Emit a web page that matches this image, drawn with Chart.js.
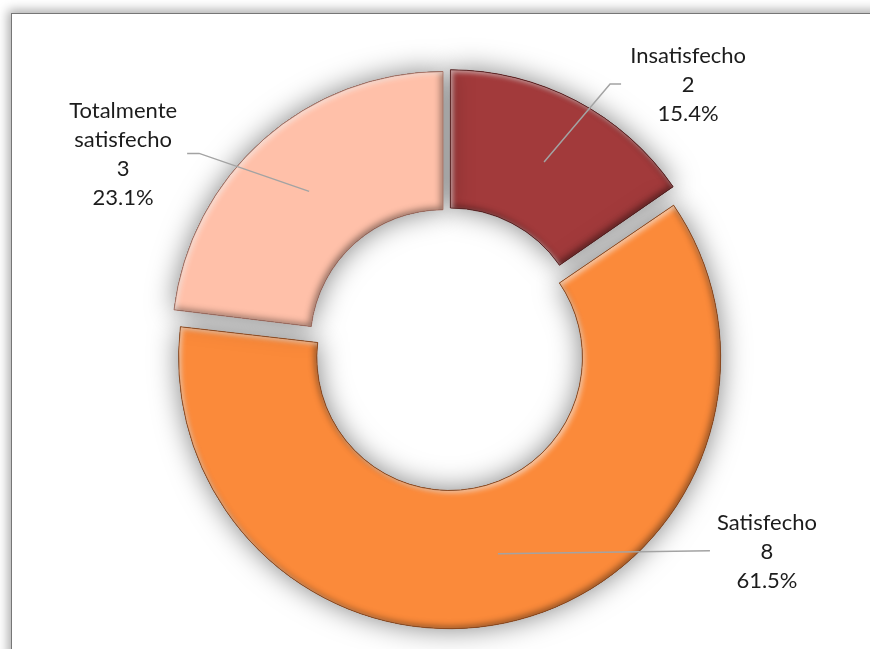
<!DOCTYPE html>
<html><head><meta charset="utf-8">
<script src="https://cdn.jsdelivr.net/npm/chart.js@4.4.1/dist/chart.umd.min.js"></script>
<style>
html,body{margin:0;padding:0;background:#fff;width:870px;height:649px;overflow:hidden}
#frame{position:absolute;left:11px;top:13px;width:900px;height:700px;border:1px solid #767676;box-shadow:0 0 10px 3px rgba(0,0,0,0.33);background:#fff}
#wrap{position:absolute;left:0;top:0;width:870px;height:649px}
</style></head><body>
<div id="frame"></div>
<div id="wrap"><canvas id="c" width="870" height="649"></canvas></div>
<script>
// ---- data ----
const categories = ['Insatisfecho', 'Satisfecho', 'Totalmente satisfecho'];
const counts = [2, 8, 3];
const labelLines = [['Insatisfecho'], ['Satisfecho'], ['Totalmente', 'satisfecho']];
const sliceColors = ['#a23a3b', '#fb8a3a', '#ffc0a9'];
const edgeColors = ['rgba(90,25,25,0.8)', 'rgba(150,70,20,0.8)', 'rgba(170,110,95,0.8)'];
const sliceOffsets = [28, 44, 24];

// leader / label placement relative to each slice's mid point
const labelPlacement = [
  { elbow: [66, -78], end: [77, -78], text: [144, -106] },
  { elbow: [212, -3], end: [212, -3], text: [269, -31] },
  { elbow: [-110, -38], end: [-122, -38], text: [-186, -80] }
];

const total = counts.reduce((a, b) => a + b, 0);

function arcGeom(arc) {
  const p = arc.getProps(['x', 'y', 'startAngle', 'endAngle', 'innerRadius', 'outerRadius', 'circumference']);
  const off = (arc.options.offset || 0) / 4;
  const half = (p.startAngle + p.endAngle) / 2;
  const fix = 1 - Math.sin(Math.min(Math.PI, p.circumference || 0));
  const rOff = off * fix;
  const ro = p.outerRadius + rOff, ri = p.innerRadius + rOff;
  const alpha = p.endAngle - p.startAngle;
  const beta = Math.max(0.001, alpha * ro - rOff / Math.PI) / ro;
  const ao = (alpha - beta) / 2;
  return { cx: p.x + Math.cos(half) * off, cy: p.y + Math.sin(half) * off, s: p.startAngle + ao, e: p.endAngle - ao, ri, ro, half };
}
function ringPath(ctx, g) {
  ctx.moveTo(g.cx + Math.cos(g.s) * g.ro, g.cy + Math.sin(g.s) * g.ro);
  ctx.arc(g.cx, g.cy, g.ro, g.s, g.e);
  ctx.arc(g.cx, g.cy, g.ri, g.e, g.s, true);
  ctx.closePath();
}
function innerShadow(ctx, g, color, blur, ox, oy) {
  ctx.save();
  ctx.beginPath();
  ringPath(ctx, g);
  ctx.clip();
  ctx.beginPath();
  ctx.rect(-2000, -2000, 5000, 5000);
  ringPath(ctx, g);
  ctx.shadowColor = color;
  ctx.shadowBlur = blur;
  ctx.shadowOffsetX = ox;
  ctx.shadowOffsetY = oy;
  ctx.fillStyle = '#000';
  ctx.fill('evenodd');
  ctx.restore();
}

// keep radii equal for every exploded slice
const radiusFixPlugin = {
  id: 'radiusFix',
  afterDatasetUpdate(chart, args) {
    args.meta.data.forEach(arc => {
      const off = (arc.options.offset || 0) / 4;
      const fix = 1 - Math.sin(Math.min(Math.PI, arc.circumference || 0));
      arc.outerRadius -= off * fix;
      arc.innerRadius -= off * fix;
    });
  }
};

const shadowPlugin = {
  id: 'shadow',
  beforeDatasetsDraw(chart) {
    const ctx = chart.ctx;
    ctx.save();
    ctx.shadowColor = 'rgba(0,0,0,0.5)';
    ctx.shadowBlur = 28;
    ctx.shadowOffsetX = 0;
    ctx.shadowOffsetY = 0;
  },
  afterDatasetsDraw(chart) {
    const ctx = chart.ctx;
    ctx.restore();
    const meta = chart.getDatasetMeta(0);
    meta.data.forEach((arc, i) => {
      const g = arcGeom(arc);
      innerShadow(ctx, g, 'rgba(0,0,0,0.45)', 7, -2, -2);
      innerShadow(ctx, g, 'rgba(255,255,255,0.55)', 5, 2.5, 2.5);
      ctx.save();
      ctx.beginPath();
      ringPath(ctx, g);
      ctx.lineWidth = 1;
      ctx.strokeStyle = edgeColors[i];
      ctx.stroke();
      ctx.restore();
    });
  }
};

const labelPlugin = {
  id: 'sliceLabels',
  afterDraw(chart) {
    const ctx = chart.ctx;
    const meta = chart.getDatasetMeta(0);
    meta.data.forEach((arc, i) => {
      const g = arcGeom(arc);
      const rm = (g.ri + g.ro) / 2;
      const ax = g.cx + Math.cos(g.half) * rm;
      const ay = g.cy + Math.sin(g.half) * rm;
      const pl = labelPlacement[i];
      ctx.save();
      ctx.strokeStyle = '#a3a3a3';
      ctx.lineWidth = 1.5;
      ctx.beginPath();
      ctx.moveTo(ax, ay);
      ctx.lineTo(ax + pl.elbow[0], ay + pl.elbow[1]);
      ctx.lineTo(ax + pl.end[0], ay + pl.end[1]);
      ctx.stroke();
      const lines = labelLines[i].concat([String(counts[i]), (counts[i] / total * 100).toFixed(1) + '%']);
      ctx.fillStyle = '#1c1c1c';
      ctx.font = '22px Lato, "Open Sans", sans-serif';
      ctx.textAlign = 'center';
      ctx.textBaseline = 'middle';
      lines.forEach((t, k) => ctx.fillText(t, ax + pl.text[0], ay + pl.text[1] + k * 29));
      ctx.restore();
    });
  }
};

new Chart(document.getElementById('c'), {
  type: 'doughnut',
  data: {
    labels: categories,
    datasets: [{
      data: counts,
      backgroundColor: sliceColors,
      borderColor: edgeColors,
      borderWidth: 0,
      offset: sliceOffsets
    }]
  },
  options: {
    responsive: false,
    animation: false,
    radius: 271,
    cutout: '49%',
    layout: { padding: { left: 24, top: 45, right: 0, bottom: 0 } },
    plugins: { legend: { display: false }, tooltip: { enabled: false } }
  },
  plugins: [radiusFixPlugin, shadowPlugin, labelPlugin]
});
</script>
</body></html>
